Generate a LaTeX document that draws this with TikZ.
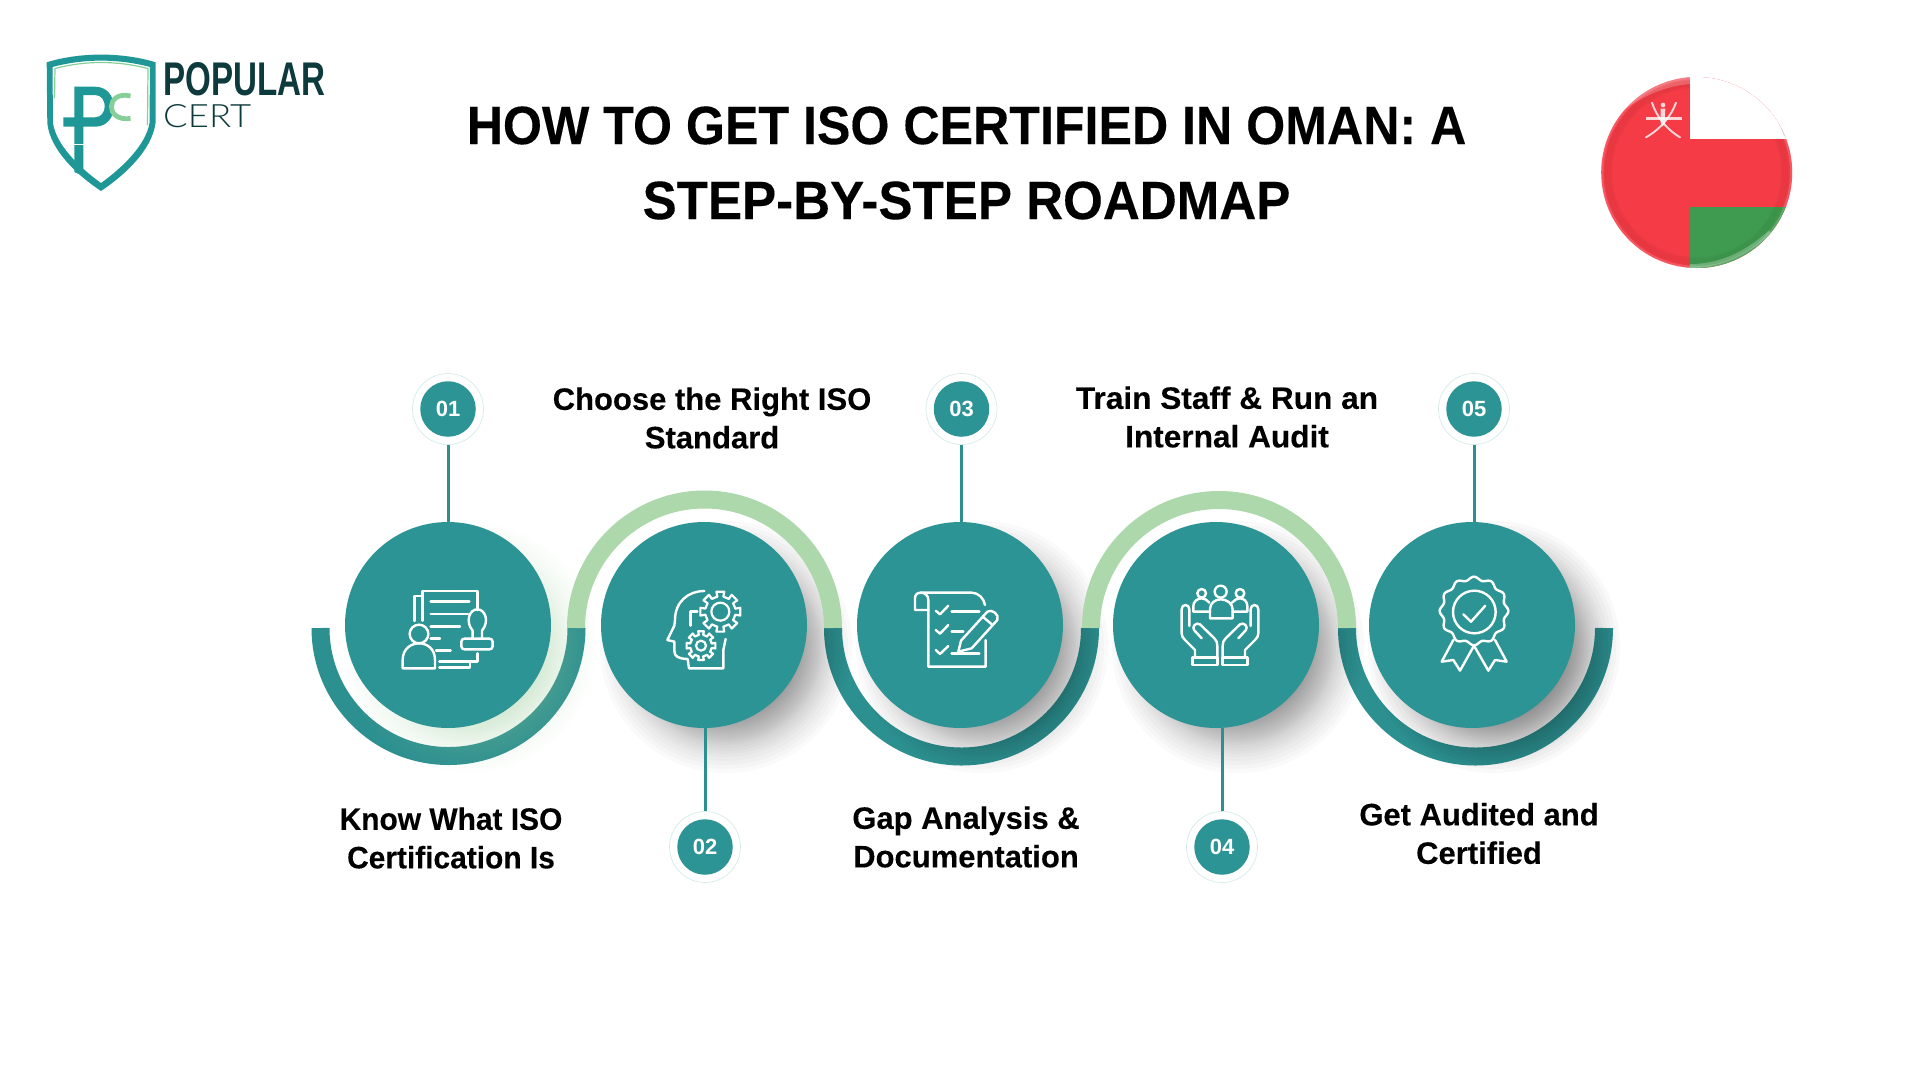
\documentclass[tikz,border=0pt]{standalone}
\usepackage{fontspec}
\usepackage{graphicx}
\setmainfont{Liberation Sans}
\newfontfamily\lightfont{Lato Light}
\newfontfamily\titlefont[FakeStretch=0.929,FakeBold=0.2]{Liberation Sans Bold}
\newfontfamily\titlewide[FakeStretch=0.947,FakeBold=0.2]{Liberation Sans Bold}
\newfontfamily\labelfont[FakeBold=0.2]{Liberation Sans Bold}
\newfontfamily\labelnarrow[FakeStretch=0.965,FakeBold=0.2]{Liberation Sans Bold}
\newfontfamily\labelwide[FakeStretch=1.02,FakeBold=0.2]{Liberation Sans Bold}
\definecolor{teal1}{HTML}{2C9494}
\definecolor{teal2}{HTML}{2D9090}
\definecolor{leaf}{HTML}{ACD8AC}
\definecolor{logodark}{HTML}{0D3A3C}
\definecolor{logoteal}{HTML}{1F9797}
\definecolor{logogreen}{HTML}{86CF98}
\definecolor{flagred}{HTML}{F43B46}
\definecolor{flaggreen}{HTML}{3F9B4F}
\definecolor{ringpale}{HTML}{D5EBEA}
\tikzset{
  stepdisc/.style={circle,fill=teal1,minimum size=206pt,inner sep=0pt},
  ringout/.style={circle,draw=ringpale,line width=0.7pt,minimum size=71pt,inner sep=0pt},
  numdisc/.style={circle,fill=teal1,text=white,minimum size=55.5pt,inner sep=0pt,font=\bfseries\fontsize{22}{22}\selectfont},
  stem/.style={draw=teal2,line width=3pt},
  lowring/.style={draw=teal2,line width=18pt},
  upring/.style={draw=leaf,line width=18pt},
  steplabel/.style={align=center,inner sep=0pt,text=black,font=\labelfont\fontsize{31}{38.5}\selectfont},
  ico/.style={draw=white,line width=2.4pt,line cap=round,line join=round},
  titletext/.style={align=center,inner sep=0pt,text=black,font=\titlefont\fontsize{54}{75}\selectfont}
}
\newcommand{\softshadow}[4]{% cx cy colour opacity
  \foreach \rr in {126,122,118,114,110,107,104,101,98,96,94,92,90,88,86,84,82,80,78,76,74,72}
    \fill[#3,opacity=#4] (#1,#2) circle (\rr);
}
\newcommand{\gearshape}[6]{% cx cy outer root hole lw
  \foreach \ang in {0,45,...,315}
    \draw[ico,line width=#6] ([shift={(#1,#2)}]\ang-22.5+11:#4) -- ([shift={(#1,#2)}]\ang-11:#3) -- ([shift={(#1,#2)}]\ang+11:#3) -- ([shift={(#1,#2)}]\ang+22.5-11:#4) -- ([shift={(#1,#2)}]\ang+22.5+11:#4);
  \draw[ico,line width=#6] (#1,#2) circle (#5);
}
\begin{document}
\begin{tikzpicture}[x=1pt,y=-1pt]
\useasboundingbox (0,0) rectangle (1920,1080);
\fill[white] (0,0) rectangle (1920,1080);

% ---------- logo ----------
\fill[logoteal,even odd rule]
  (46.7,62.3) .. controls (80,52) and (122,52) .. (155.7,62.3)
  -- (155.5,123) .. controls (152,150) and (125,175) .. (101,191)
  .. controls (77,175) and (50,150) .. (47.3,123) -- cycle
  (52.5,67) .. controls (84,58.5) and (118,58.5) .. (150,67)
  -- (149.5,123) .. controls (146,145) and (122,168) .. (101,183)
  .. controls (80,168) and (56,145) .. (53,123) -- cycle;
\draw[logogreen,line width=1.2pt]
  (54.5,98) -- (55,68.5) .. controls (85,60.5) and (117,60.5) .. (148,68.5) -- (147.5,125);
\fill[logoteal,even odd rule]
  (74.3,86.7) -- (95,86.7) .. controls (120,86.7) and (120,126.7) .. (95,126.7) -- (83.3,126.7) -- (83.3,176) -- (74.3,172) -- (74.3,126.7) -- (63.3,126.7) -- (63.3,117.3) -- (74.3,117.3) -- cycle
  (83.3,95) -- (83.3,117.3) -- (95,117.3) .. controls (108,117.3) and (108,95) .. (95,95) -- cycle;
\draw[white,line width=0.9pt] (74,144) -- (83.5,144);
\draw[logogreen,line width=4.8pt] (130.5,96) .. controls (106,90) and (104,122) .. (130.5,118.5);
\node[inner sep=0pt,anchor=west,text=logodark] (logoa) at (163,79.5) {\resizebox{162pt}{33pt}{\bfseries POPULAR}};
\node[inner sep=0pt,anchor=west,text=logodark] (logob) at (163,116) {\resizebox{88pt}{23pt}{\lightfont CERT}};

% ---------- flag ----------
\begin{scope}
  \clip (1696.7,172.5) circle (95.5);
  \fill[flagred] (1595,70) rectangle (1800,280);
  \fill[flaggreen] (1690,207) rectangle (1800,280);
  \foreach \rr in {86,88,90,92}
    \draw[black,opacity=0.03,line width=3pt] (1696.7,172.5) circle (\rr);
  \fill[white] (1690,70) rectangle (1800,139);
  \draw[white,opacity=0.14,line width=2.5pt] (1696.7,172.5) circle (94.5);
  \draw[black,opacity=0.12,line width=2pt] (1770,105) .. controls (1776,114) and (1781,125) .. (1785,136);
  \draw[white,opacity=0.25,line width=4pt] (1690,266) .. controls (1725,266) and (1750,250) .. (1770,232);
  \fill[white,opacity=0.22] (1606,125) .. controls (1625,90) and (1655,78) .. (1690,78) -- (1690,84) .. controls (1660,86) and (1630,102) .. (1606,125) -- cycle;
\end{scope}
\begin{scope}[shift={(1570,60)},x=0.3333pt,y=-0.3333pt,line cap=round]
  \draw[white,opacity=0.8,line width=1.9pt] (246,128) .. controls (258,165) and (285,205) .. (330,232);
  \draw[white,opacity=0.8,line width=1.9pt] (318,128) .. controls (305,165) and (275,205) .. (228,232);
  \fill[white,opacity=0.8] (228,171) rectangle (335,180);
  \fill[white,opacity=0.8] (272,146) -- (286,146) -- (284,188) -- (278,200) -- (272,188) -- cycle;
  \fill[white,opacity=0.8] (279,135) circle (7);
\end{scope}

% ---------- title ----------
\node[titletext] (title) at (966.5,163) {HOW TO GET ISO CERTIFIED IN OMAN: A\\{\titlewide STEP-BY-STEP ROADMAP}};

% ---------- rings and shadows ----------
\draw[lowring] (320.5,628) arc[start angle=180,end angle=0,radius=128];
\draw[lowring] (833,628) arc[start angle=180,end angle=0,radius=128.5];
\draw[lowring] (1347,628) arc[start angle=180,end angle=0,radius=128.5];

\softshadow{470}{647}{leaf}{0.024}
\softshadow{726}{647}{black}{0.02}
\softshadow{982}{647}{black}{0.02}
\softshadow{1238}{647}{black}{0.02}
\softshadow{1494}{647}{black}{0.024}

\draw[upring] (576,628) arc[start angle=180,end angle=360,radius=128.5];
\draw[upring] (1091,628) arc[start angle=180,end angle=360,radius=128];

% ---------- discs ----------
\node[stepdisc] (c1) at (448,625) {};
\node[stepdisc] (c2) at (704,625) {};
\node[stepdisc] (c3) at (960,625) {};
\node[stepdisc] (c4) at (1216,625) {};
\node[stepdisc] (c5) at (1472,625) {};

% ---------- badges ----------
\node[ringout] (r1) at (448,409) {};
\node[ringout] (r2) at (705,847) {};
\node[ringout] (r3) at (961.5,409) {};
\node[ringout] (r4) at (1222,847) {};
\node[ringout] (r5) at (1474,409) {};
\node[numdisc] (n1) at (r1) {01};
\node[numdisc] (n2) at (r2) {02};
\node[numdisc] (n3) at (r3) {03};
\node[numdisc] (n4) at (r4) {04};
\node[numdisc] (n5) at (r5) {05};
\draw[stem] (r1.south) -- (r1.south |- c1.north);
\draw[stem] (r2.north) -- (r2.north |- c2.south);
\draw[stem] (r3.south) -- (r3.south |- c3.north);
\draw[stem] (r4.north) -- (r4.north |- c4.south);
\draw[stem] (r5.south) -- (r5.south |- c5.north);

% ---------- labels ----------
\node[steplabel,font=\labelnarrow\fontsize{31}{38.5}\selectfont] (t1) at (451,838) {Know What ISO\\Certification Is};
\node[steplabel] (t2) at (712,418) {Choose the Right ISO\\Standard};
\node[steplabel] (t3) at (966,837) {Gap Analysis \&\\Documentation};
\node[steplabel,font=\labelwide\fontsize{31}{38.5}\selectfont] (t4) at (1227,417) {Train Staff \& Run an\\Internal Audit};
\node[steplabel] (t5) at (1479,833.5) {Get Audited and\\Certified};

% ---------- icon 1 ----------
\begin{scope}[shift={(380,560)},x=0.3333pt,y=-0.3333pt]
  \draw[ico] (125,108) -- (103,108) -- (103,183);
  \draw[ico] (127,182) -- (127,93) -- (293,93) -- (293,150);
  \draw[ico] (293,280) -- (293,305) -- (178,305);
  \draw[ico] (270,305) -- (270,322) -- (178,322);
  \draw[ico] (152,125) -- (268,125);
  \draw[ico] (152,162) -- (264,162);
  \draw[ico] (152,199) -- (240,199);
  \draw[ico] (152,236) -- (180,236);
  \draw[ico] (168,272) -- (212,272);
  \draw[ico] (278,236) -- (278,212) .. controls (255,185) and (268,148) .. (292,148) .. controls (316,148) and (329,185) .. (306,212) -- (306,236);
  \draw[ico,rounded corners=3pt] (244,236) rectangle (338,268);
  \draw[ico] (117,222) circle (28);
  \draw[ico] (68,325) -- (68,300) .. controls (68,265) and (95,250) .. (117,250) .. controls (140,250) and (165,265) .. (165,300) -- (165,325) -- cycle;
\end{scope}

% ---------- icon 2 ----------
\begin{scope}[shift={(640,560)},x=0.3333pt,y=-0.3333pt]
  \draw[ico] (193,93) .. controls (145,93) and (105,125) .. (105,180) -- (103,197) -- (82,240) -- (103,245) -- (103,272) .. controls (103,290) and (115,296) .. (143,297) -- (147,325) -- (250,325) -- (250,270) -- (257,237);
  \draw[ico] (152,197) -- (152,155) -- (172,155);
  \gearshape{241}{155}{61}{46}{27}{2.2pt}
  \gearshape{183}{257}{44}{33}{15}{2.2pt}
\end{scope}

% ---------- icon 3 ----------
\begin{scope}[shift={(900,570)},x=0.3333pt,y=-0.3333pt]
  \draw[ico] (85,120) -- (45,120) -- (45,85) .. controls (45,74) and (52,68) .. (62,68) -- (215,68) .. controls (235,68) and (252,85) .. (255,105);
  \draw[ico] (62,68) .. controls (75,68) and (85,76) .. (85,90) -- (85,290) -- (257,290) -- (257,210);
  \draw[ico] (107,122) -- (120,133) -- (145,107);
  \draw[ico] (107,180) -- (120,191) -- (145,165);
  \draw[ico] (107,240) -- (120,252) -- (145,228);
  \draw[ico] (155,125) -- (238,125);
  \draw[ico] (155,184) -- (190,184);
  \draw[ico] (155,250) -- (238,250);
  \draw[ico] (175,245) -- (183,212) -- (262,125) .. controls (275,115) and (300,135) .. (292,150) -- (215,235) -- cycle;
  \draw[ico] (248,140) -- (278,165);
\end{scope}

% ---------- icon 4 ----------
\begin{scope}[shift={(1160,570)},x=0.3333pt,y=-0.3333pt]
  \draw[ico] (182,65) circle (18);
  \draw[ico] (150,145) -- (150,118) .. controls (150,100) and (165,88) .. (182,88) .. controls (200,88) and (218,100) .. (218,118) -- (218,145) -- cycle;
  \draw[ico] (125,70) circle (13);
  \draw[ico] (150,125) -- (100,125) -- (100,108) .. controls (100,95) and (112,85) .. (125,85) .. controls (133,85) and (142,90) .. (148,98);
  \draw[ico] (240,70) circle (13);
  \draw[ico] (218,125) -- (262,125) -- (262,108) .. controls (262,95) and (252,85) .. (240,85) .. controls (232,85) and (222,90) .. (216,98);
  \foreach \mirr/\off in {1/0,-1/360}{
    \begin{scope}[shift={(\off,0)},xscale=\mirr]
      \draw[ico] (98,262) rectangle (172,285);
      \draw[ico] (105,262) -- (105,240) -- (75,210) .. controls (68,203) and (65,198) .. (65,190) -- (65,118) .. controls (65,110) and (70,105) .. (76,105) .. controls (83,105) and (88,110) .. (88,118) -- (88,168);
      \draw[ico] (125,205) -- (102,180) .. controls (95,170) and (108,155) .. (120,163) -- (163,205) .. controls (170,212) and (172,218) .. (172,228) -- (172,262);
    \end{scope}
  }
\end{scope}

% ---------- icon 5 ----------
\begin{scope}[shift={(1410,560)},x=0.3333pt,y=-0.3333pt]
  \draw[ico] plot[domain=0:360,samples=145,smooth] ({192+(98+5*cos(12*\x))*cos(\x)},{153+(98+5*cos(12*\x))*sin(\x)}) -- cycle;
  \draw[ico] (193,156) circle (64);
  \draw[ico] (160,163) -- (183,185) -- (226,137);
  \draw[ico] (130,240) -- (95,305) -- (130,300) -- (150,332) -- (192,257) -- (235,332) -- (255,300) -- (290,305) -- (255,240);
\end{scope}
\end{tikzpicture}
\end{document}
